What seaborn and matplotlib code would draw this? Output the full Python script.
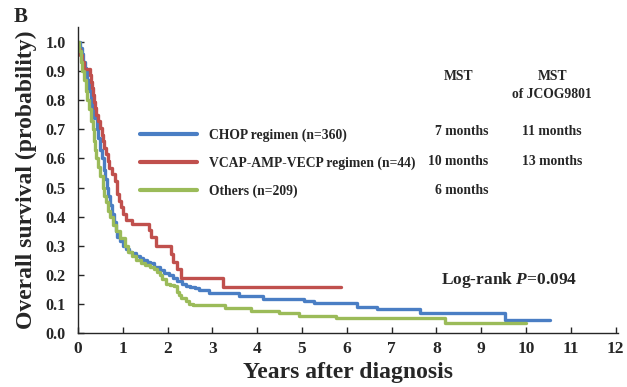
import pandas as pd
import seaborn as sns
import matplotlib.pyplot as plt

# Kaplan-Meier step values (time in years, survival)
chop_t = [0, 0.04, 0.08, 0.12, 0.15, 0.18, 0.21, 0.25, 0.28, 0.32, 0.36, 0.42, 0.45, 0.49, 0.53,
          0.57, 0.61, 0.65, 0.68, 0.72, 0.76, 0.80, 0.84, 0.88, 0.93, 1.0, 1.07, 1.13, 1.2, 1.3,
          1.38, 1.45, 1.53, 1.6, 1.7, 1.82, 1.92, 2.04, 2.12, 2.2, 2.33, 2.42, 2.5, 2.6, 2.71,
          2.93, 3.6, 4.12, 5.04, 5.27, 6.22, 6.67, 7.64, 9.53, 10.53]
chop_s = [1.0, 0.98, 0.96, 0.93, 0.91, 0.90, 0.87, 0.83, 0.80, 0.77, 0.74, 0.70, 0.67, 0.63, 0.60,
          0.56, 0.53, 0.50, 0.47, 0.44, 0.41, 0.38, 0.35, 0.33, 0.315, 0.30, 0.29, 0.28, 0.275, 0.265,
          0.258, 0.25, 0.245, 0.24, 0.228, 0.216, 0.207, 0.20, 0.19, 0.18, 0.17, 0.163, 0.158, 0.153,
          0.148, 0.137, 0.128, 0.118, 0.111, 0.102, 0.090, 0.081, 0.068, 0.045, 0.045]

vcap_t = [0, 0.01, 0.04, 0.09, 0.13, 0.27, 0.30, 0.32, 0.33, 0.36, 0.39, 0.41, 0.44, 0.50, 0.53,
          0.56, 0.59, 0.62, 0.66, 0.70, 0.75, 0.82, 0.86, 0.88, 0.92, 0.96, 1.0, 1.07, 1.2, 1.58,
          1.62, 1.73, 2.07, 2.13, 2.2, 2.3, 3.24, 5.88]
vcap_s = [1.0, 0.977, 0.955, 0.932, 0.909, 0.886, 0.864, 0.841, 0.818, 0.795, 0.773, 0.750, 0.727,
          0.705, 0.682, 0.659, 0.636, 0.614, 0.591, 0.568, 0.545, 0.523, 0.500, 0.477, 0.455, 0.432,
          0.409, 0.390, 0.375, 0.355, 0.33, 0.30, 0.27, 0.245, 0.22, 0.19, 0.158, 0.158]

oth_t = [0, 0.03, 0.06, 0.1, 0.13, 0.17, 0.21, 0.25, 0.29, 0.33, 0.36, 0.39, 0.41, 0.45, 0.5,
         0.56, 0.59, 0.62, 0.67, 0.71, 0.78, 0.85, 0.94, 1.04, 1.12, 1.2, 1.3, 1.4, 1.5, 1.6, 1.7,
         1.76, 1.82, 1.88, 1.97, 2.05, 2.15, 2.2, 2.25, 2.3, 2.4, 2.48, 2.56, 3.27, 3.86, 4.49,
         4.93, 5.75, 8.19, 10.0]
oth_s = [1.0, 0.97, 0.93, 0.90, 0.87, 0.83, 0.80, 0.77, 0.73, 0.70, 0.66, 0.63, 0.60, 0.57, 0.54,
         0.50, 0.47, 0.45, 0.42, 0.40, 0.37, 0.35, 0.325, 0.30, 0.28, 0.265, 0.25, 0.24, 0.233, 0.227,
         0.22, 0.21, 0.20, 0.185, 0.17, 0.165, 0.16, 0.14, 0.13, 0.12, 0.11, 0.10, 0.096, 0.085,
         0.076, 0.068, 0.060, 0.052, 0.035, 0.035]

groups = ["CHOP regimen (n=360)", "VCAP-AMP-VECP regimen (n=44)", "Others (n=209)"]
mst = ["7 months", "10 months", "6 months"]
mst_jcog = ["11 months", "13 months", ""]
colors = ["#4A7EC4", "#C0504D", "#9BBB59"]

df = pd.concat([
    pd.DataFrame({"time": chop_t, "surv": chop_s, "group": groups[0]}),
    pd.DataFrame({"time": vcap_t, "surv": vcap_s, "group": groups[1]}),
    pd.DataFrame({"time": oth_t, "surv": oth_s, "group": groups[2]}),
])

sns.set_style("ticks")
plt.rcParams["font.family"] = ["Liberation Serif", "DejaVu Serif"]
plt.rcParams["font.weight"] = "bold"
plt.rcParams["mathtext.fontset"] = "custom"
plt.rcParams["mathtext.it"] = "Liberation Serif:italic:bold"
plt.rcParams["mathtext.rm"] = "Liberation Serif:bold"

fig = plt.figure(figsize=(6.27, 3.87), dpi=100)
ax = fig.add_axes([0.1244, 0.1395, 0.8612, 0.7895])

sns.lineplot(data=df, x="time", y="surv", hue="group", hue_order=groups, palette=colors,
             estimator=None, sort=False, drawstyle="steps-post", linewidth=2.4, ax=ax)

ax.set_xlim(0, 12.05)
ax.set_ylim(0, 1.05)
ax.set_xticks(range(0, 13))
ax.set_yticks([i / 10 for i in range(11)])
ax.set_yticklabels([f"{i / 10:.1f}" for i in range(11)])
ax.tick_params(direction="in", length=4, width=1)
ax.tick_params(axis="x", labelsize=12.5, pad=6)
ax.tick_params(axis="y", labelsize=11.5, pad=9)
for lab in ax.get_xticklabels() + ax.get_yticklabels():
    lab.set_fontweight("bold")
sns.despine(ax=ax)
ax.spines["left"].set_linewidth(1)
ax.spines["bottom"].set_linewidth(1)

ax.set_xlabel("Years after diagnosis", fontsize=17, fontweight="bold", labelpad=3)
ax.set_ylabel("Overall survival (probability)", fontsize=17, fontweight="bold", labelpad=6)

leg = ax.legend(loc="upper left", bbox_to_anchor=(0.105, 0.687), frameon=False,
                fontsize=9.8, handlelength=4.2, handletextpad=0.85, labelspacing=1.08,
                borderaxespad=0)
for line in leg.get_lines():
    line.set_linewidth(3)

# MST table (data coordinates: years, survival)
fs = 9.8
ax.text(8.49, 0.88, "MST", ha="center", va="center", fontsize=fs, fontweight="bold")
ax.text(10.58, 0.88, "MST", ha="center", va="center", fontsize=fs, fontweight="bold")
ax.text(10.58, 0.818, "of JCOG9801", ha="center", va="center", fontsize=fs, fontweight="bold")
row_y = [0.691, 0.591, 0.491]
for y, m, j in zip(row_y, mst, mst_jcog):
    ax.text(9.16, y, m, ha="right", va="center", fontsize=fs, fontweight="bold")
    ax.text(10.58, y, j, ha="center", va="center", fontsize=fs, fontweight="bold")

ax.text(8.09, 0.182, "Log-rank $P$=0.094", ha="left", va="center", fontsize=12.5,
        fontweight="bold")

fig.text(0.022, 0.955, "B", fontsize=15, fontweight="bold", ha="left", va="center")

fig.savefig("out.png", dpi=100)
